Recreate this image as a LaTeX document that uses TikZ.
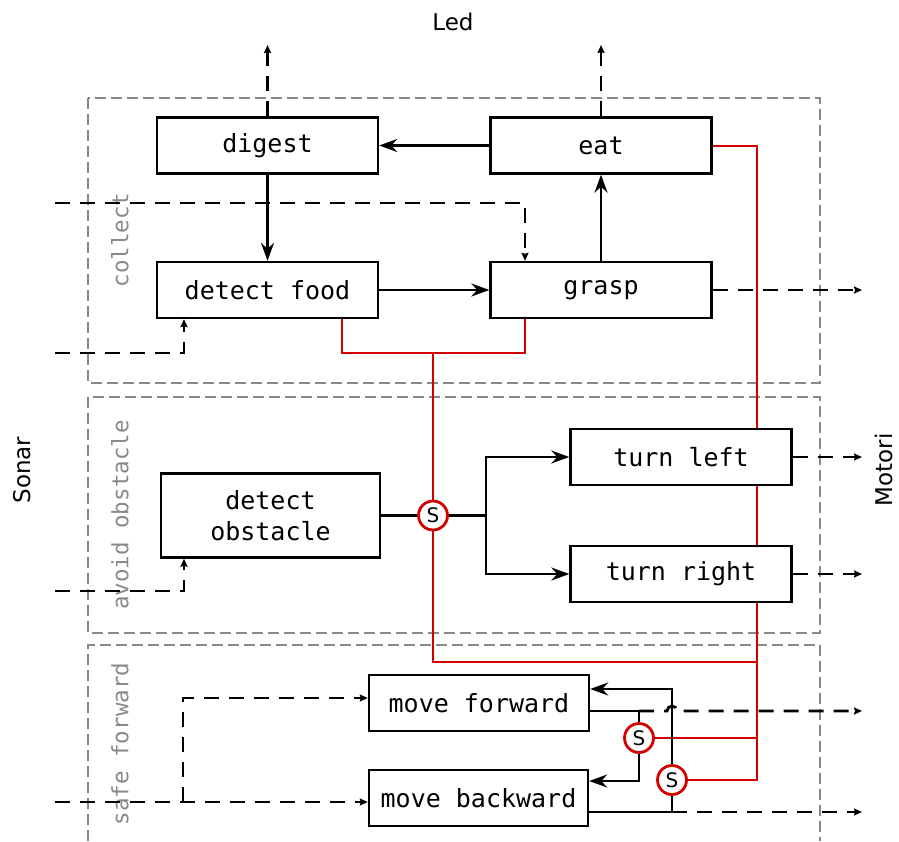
\documentclass[tikz,border=0pt]{standalone}
\usepackage{fontspec}
\setmainfont{DejaVu Sans}
\newfontfamily\monofont{DejaVu Sans Mono}
\usetikzlibrary{arrows.meta}
\definecolor{supred}{RGB}{212,0,0}
\definecolor{framegray}{RGB}{137,137,137}

\begin{document}
\begin{tikzpicture}[x=1pt,y=-1pt,
  box/.style={draw=black, line width=2.4pt, fill=white, minimum width=221pt,
    minimum height=56pt, inner sep=0pt, align=center,
    font=\monofont\fontsize{25}{31}\selectfont},
  frame/.style={draw=framegray, line width=2.5pt, dash pattern=on 11pt off 5pt},
  grouplabel/.style={rotate=90, text=framegray, font=\monofont\fontsize{22.5}{27}\selectfont},
  plain/.style={draw=black, line width=2.4pt},
  flow/.style={plain, -{Stealth[length=18pt,width=13pt,inset=6pt]}},
  sig/.style={draw=black, line width=2.8pt, dash pattern=on 15pt off 10pt,
    -{Stealth[length=8pt,width=7pt,inset=1pt]}},
  sup/.style={draw=supred, line width=2.4pt},
  sw/.style={circle, draw=supred, line width=2.8pt, fill=white, minimum size=29pt,
    inner sep=0pt, font=\fontsize{20}{20}\selectfont},
  io/.style={rotate=90, font=\fontsize{23}{27}\selectfont}
]
\useasboundingbox (0,0) rectangle (899,841);

% layer frames
\draw[frame] (88,98) rectangle (820,383);
\draw[frame] (88,397) rectangle (820,633);
\draw[frame] (88,841) -- (88,645) -- (820,645) -- (820,841);
\node[grouplabel] (lcollect) at (120,240) {collect};
\node[grouplabel] (lavoid) at (120,515) {avoid obstacle};
\node[grouplabel] (lsafe) at (120,744) {safe forward};

% outer labels
\node[font=\fontsize{23}{27}\selectfont] (led) at (453,22) {Led};
\node[io] (sonar) at (22,470) {Sonar};
\node[io] (motori) at (884,470) {Motori};

% coordinates for free ends and junctions
\coordinate (rj) at (433,353);
\coordinate (rjr) at (757,662);
\coordinate (rbot) at (757,780);
\coordinate (fork) at (486,515.5);
\coordinate (jf) at (639,711);
\coordinate (jb) at (672,812);
\coordinate (split) at (183,802);
\coordinate (ledA) at (267.5,45);
\coordinate (ledB) at (601,45);
\coordinate (inA) at (55,203);
\coordinate (inB) at (55,353);
\coordinate (inC) at (55,591);
\coordinate (inD) at (55,802);
\coordinate (outA) at (862,290);
\coordinate (outB) at (862,457);
\coordinate (outC) at (862,574);
\coordinate (outD) at (862,711);
\coordinate (outE) at (862,812);

% suppressor nodes
\node[sw] (s0) at (433,515.5) {S};
\node[sw] (s1) at (639,738) {S};
\node[sw] (s2) at (672,780) {S};

% suppression wiring (behind the boxes)
\draw[sup] (342,319) |- (rj) -| (525,317);
\draw[sup] (rj) -- (s0);
\draw[sup] (s0) |- (rjr);
\draw[sup] (711,146) -| (rbot) -- (s2);
\draw[sup] (s1) -- (s1 -| rbot);

% behaviour boxes
\node[box] (digest) at (267.5,145.5) {digest};
\node[box] (eat) at (601,145.5) {eat};
\node[box] (dfood) at (267.5,290) {detect food};
\node[box] (grasp) at (601,290) {grasp};
\node[box, minimum width=219pt, minimum height=84pt] (dobs) at (270.5,515.5) {detect\\obstacle};
\node[box] (tleft) at (681,457) {turn left};
\node[box] (tright) at (681,574) {turn right};
\node[box, minimum width=220pt] (mfwd) at (479,703) {move forward};
\node[box, minimum width=219pt] (mback) at (478.5,798) {move backward};

% collect layer
\draw[flow] (eat) -- (digest);
\draw[flow] (digest) -- (dfood);
\draw[flow] (dfood) -- (grasp);
\draw[flow] (grasp) -- (eat);
\draw[sig] (digest.north) -- (ledA);
\draw[sig] (eat.north) -- (ledB);
\draw[sig] (inA) -| ([xshift=-76pt]grasp.north);
\draw[sig] (inB) -| ([xshift=-83.5pt]dfood.south);
\draw[sig] (grasp.east) -- (outA);

% avoid obstacle layer
\draw[plain] (dobs.east) -- (s0.west);
\draw[plain] (s0.east) -- (fork);
\draw[flow] (fork) |- (tleft.west);
\draw[flow] (fork) |- (tright.west);
\draw[sig] (inC) -| ([xshift=-86.5pt]dobs.south);
\draw[sig] (tleft.east) -- (outB);
\draw[sig] (tright.east) -- (outC);

% safe forward layer
\draw[sig] (inD) -- (mback.west |- inD);
\draw[sig] (split) |- ([yshift=5pt]mfwd.west);
\draw[plain] ([yshift=-8pt]mfwd.east) -- (jf);
\draw[sig] (jf) -- (667,711) arc[start angle=180, end angle=360, radius=5] -- (outD);
\draw[plain] (jf) -- (s1);
\draw[flow] (s1) |- ([yshift=17pt]mback.east);
\draw[plain] ([yshift=-14pt]mback.east) -- (jb);
\draw[sig] (jb) -- (outE);
\draw[plain] (jb) -- (s2);
\draw[flow] (s2) |- ([yshift=14pt]mfwd.east);
\end{tikzpicture}
\end{document}
